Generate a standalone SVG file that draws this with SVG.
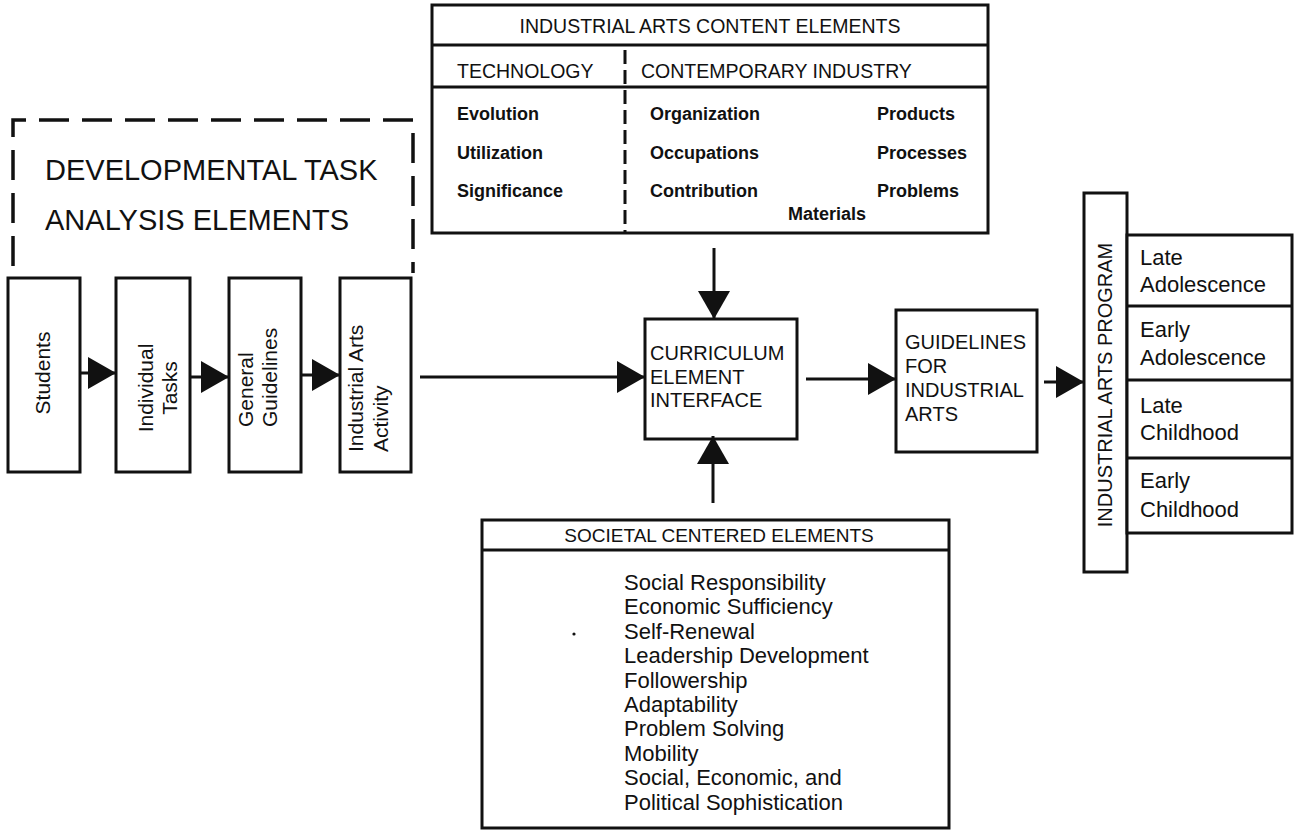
<svg xmlns="http://www.w3.org/2000/svg" width="1304" height="832" viewBox="0 0 1304 832">
<style>
  text { font-family: "Liberation Sans", Arial, sans-serif; fill: #111; }
  .box { fill: #fff; stroke: #111; stroke-width: 3; }
  .ln { fill: none; stroke: #111; stroke-width: 3; }
  .dash { fill: none; stroke: #111; stroke-width: 3.5; stroke-dasharray: 30 13; }
  .vdash { fill: none; stroke: #111; stroke-width: 3; stroke-dasharray: 14 6; }
  .hdr { font-size: 19.5px; }
  .item { font-size: 18px; font-weight: bold; }
  .big { font-size: 29px; }
  .vt { font-size: 21px; }
  .mid { font-size: 20px; }
  .age { font-size: 22px; }
  .soc { font-size: 22px; }
</style>
<defs>
  <marker id="arr" viewBox="0 0 28 32" refX="28" refY="16" markerWidth="28" markerHeight="32" markerUnits="userSpaceOnUse" orient="auto">
    <path d="M0,0 L28,16 L0,32 Z" fill="#111"/>
  </marker>
</defs>

<g id="developmental-task-analysis">
  <path class="dash" d="M13,266 V120 H413 V273"/>
  <text class="big" x="45" y="180">DEVELOPMENTAL TASK</text>
  <text class="big" x="45" y="230">ANALYSIS ELEMENTS</text>
</g>

<g id="students">
  <rect class="box" x="8" y="278" width="72" height="194"/>
  <text class="vt" transform="translate(50,373) rotate(-90)" text-anchor="middle">Students</text>
</g>
<g id="individual-tasks">
  <rect class="box" x="116" y="278" width="74" height="194"/>
  <text class="vt" transform="translate(153,388) rotate(-90)" text-anchor="middle"><tspan x="0" y="0">Individual</tspan><tspan x="0" y="24">Tasks</tspan></text>
</g>
<g id="general-guidelines">
  <rect class="box" x="229" y="278" width="72" height="194"/>
  <text class="vt" transform="translate(253,427) rotate(-90)"><tspan x="0" y="0">General</tspan><tspan x="0" y="24">Guidelines</tspan></text>
</g>
<g id="industrial-arts-activity">
  <rect class="box" x="340" y="278" width="71" height="194"/>
  <text class="vt" transform="translate(363,452) rotate(-90)"><tspan x="0" y="0">Industrial Arts</tspan><tspan x="0" y="25">Activity</tspan></text>
</g>

<g id="content-elements">
  <rect class="box" x="432" y="5" width="556" height="228"/>
  <line class="ln" x1="432" y1="45" x2="988" y2="45"/>
  <line class="ln" x1="432" y1="87" x2="988" y2="87"/>
  <line class="vdash" x1="625" y1="50" x2="625" y2="233"/>
  <text class="hdr" x="710" y="33" text-anchor="middle">INDUSTRIAL ARTS CONTENT ELEMENTS</text>
  <text class="hdr" x="457" y="78">TECHNOLOGY</text>
  <text class="hdr" x="641" y="78">CONTEMPORARY INDUSTRY</text>
  <text class="item" x="457" y="120">Evolution</text>
  <text class="item" x="457" y="159">Utilization</text>
  <text class="item" x="457" y="197">Significance</text>
  <text class="item" x="650" y="120">Organization</text>
  <text class="item" x="650" y="159">Occupations</text>
  <text class="item" x="650" y="197">Contribution</text>
  <text class="item" x="877" y="120">Products</text>
  <text class="item" x="877" y="159">Processes</text>
  <text class="item" x="877" y="197">Problems</text>
  <text class="item" x="788" y="220">Materials</text>
</g>

<g id="curriculum-element-interface">
  <rect class="box" x="645" y="319" width="152" height="120"/>
  <text class="mid" x="650" y="360">CURRICULUM</text>
  <text class="mid" x="650" y="383.5">ELEMENT</text>
  <text class="mid" x="650" y="407">INTERFACE</text>
</g>

<g id="guidelines-for-industrial-arts">
  <rect class="box" x="896" y="310" width="141" height="142"/>
  <text class="mid" x="905" y="349">GUIDELINES</text>
  <text class="mid" x="905" y="373">FOR</text>
  <text class="mid" x="905" y="397">INDUSTRIAL</text>
  <text class="mid" x="905" y="421">ARTS</text>
</g>

<g id="industrial-arts-program">
  <rect class="box" x="1084" y="193" width="43" height="379"/>
  <text class="mid" transform="translate(1112,385) rotate(-90)" text-anchor="middle">INDUSTRIAL ARTS PROGRAM</text>
  <rect class="box" x="1127" y="235" width="165" height="298"/>
  <line class="ln" x1="1127" y1="306" x2="1292" y2="306"/>
  <line class="ln" x1="1127" y1="380" x2="1292" y2="380"/>
  <line class="ln" x1="1127" y1="458" x2="1292" y2="458"/>
  <text class="age" x="1140" y="265">Late</text>
  <text class="age" x="1140" y="292">Adolescence</text>
  <text class="age" x="1140" y="337">Early</text>
  <text class="age" x="1140" y="365">Adolescence</text>
  <text class="age" x="1140" y="413">Late</text>
  <text class="age" x="1140" y="440">Childhood</text>
  <text class="age" x="1140" y="488">Early</text>
  <text class="age" x="1140" y="517">Childhood</text>
</g>

<g id="societal-centered-elements">
  <rect class="box" x="482" y="520" width="467" height="308"/>
  <line class="ln" x1="482" y1="550" x2="949" y2="550"/>
  <text class="hdr" x="719" y="542" text-anchor="middle" style="font-size:19px">SOCIETAL CENTERED ELEMENTS</text>
  <text class="soc" x="624" y="590">Social Responsibility</text>
  <text class="soc" x="624" y="614.4">Economic Sufficiency</text>
  <text class="soc" x="624" y="638.8">Self-Renewal</text>
  <text class="soc" x="624" y="663.2">Leadership Development</text>
  <text class="soc" x="624" y="687.6">Followership</text>
  <text class="soc" x="624" y="712">Adaptability</text>
  <text class="soc" x="624" y="736.4">Problem Solving</text>
  <text class="soc" x="624" y="760.8">Mobility</text>
  <text class="soc" x="624" y="785.2">Social, Economic, and</text>
  <text class="soc" x="624" y="809.6">Political Sophistication</text>
  <circle cx="574" cy="634" r="1.6" fill="#111"/>
</g>

<g id="connectors">
  <line class="ln" x1="80" y1="373" x2="116" y2="373" marker-end="url(#arr)"/>
  <line class="ln" x1="190" y1="377" x2="229" y2="377" marker-end="url(#arr)"/>
  <line class="ln" x1="301" y1="375" x2="340" y2="375" marker-end="url(#arr)"/>
  <line class="ln" x1="420" y1="377" x2="645" y2="377" marker-end="url(#arr)"/>
  <line class="ln" x1="714" y1="248" x2="714" y2="319" marker-end="url(#arr)"/>
  <line class="ln" x1="713" y1="503" x2="713" y2="436" marker-end="url(#arr)"/>
  <line class="ln" x1="806" y1="379" x2="896" y2="379" marker-end="url(#arr)"/>
  <line class="ln" x1="1044" y1="382" x2="1084" y2="382" marker-end="url(#arr)"/>
</g>
</svg>
